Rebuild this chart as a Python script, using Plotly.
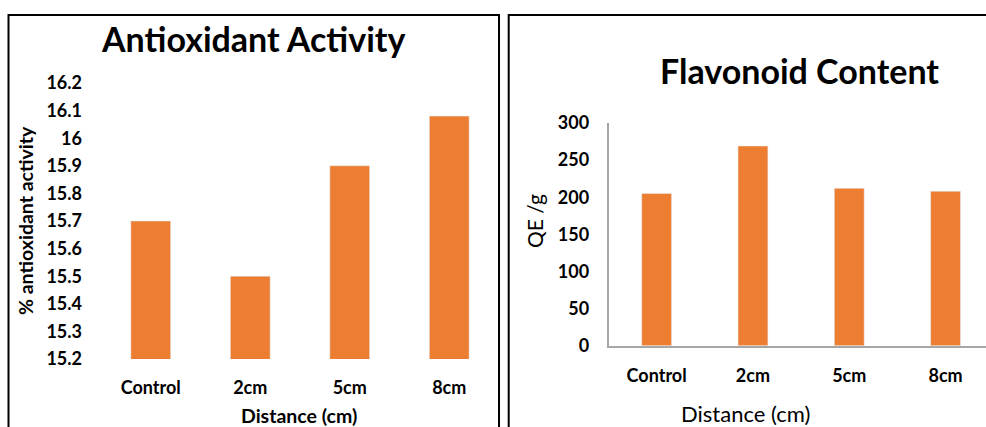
import plotly.graph_objects as go

# Data
distances = ["Control", "2cm", "5cm", "8cm"]
antioxidant_pct = [15.70, 15.50, 15.90, 16.08]
flavonoid_qe = [205, 269, 212, 208]

antioxidant_ticks = [15.2, 15.3, 15.4, 15.5, 15.6, 15.7, 15.8, 15.9, 16.0, 16.1, 16.2]
antioxidant_ticktext = ["15.2", "15.3", "15.4", "15.5", "15.6", "15.7", "15.8", "15.9", "16", "16.1", "16.2"]
flavonoid_ticks = [0, 50, 100, 150, 200, 250, 300]

W, H = 986, 427
BAR = "#ED7D31"
FONT = "Lato"


def px(x):
    return x / W


def py(y):
    return 1 - y / H


fig = go.Figure()

fig.add_trace(go.Bar(x=distances, y=antioxidant_pct, marker_color=BAR, width=0.40,
                     xaxis="x", yaxis="y", showlegend=False))
fig.add_trace(go.Bar(x=distances, y=flavonoid_qe, marker_color=BAR, width=0.31,
                     xaxis="x2", yaxis="y2", showlegend=False))

tick_font = dict(family=FONT, size=18, color="#000000", weight="bold")

fig.update_layout(
    width=W, height=H,
    margin=dict(l=0, r=0, t=0, b=0, autoexpand=False),
    paper_bgcolor="white", plot_bgcolor="white",
    font=dict(family=FONT, color="#000000"),
    xaxis=dict(domain=[px(101), px(499)], range=[-0.5, 3.5], anchor="y",
               showline=False, ticks="", tickfont=tick_font, ticklabelstandoff=16,
               showgrid=False, zeroline=False, automargin=False),
    yaxis=dict(domain=[py(359), py(83)], range=[15.2, 16.2], anchor="x",
               tickvals=antioxidant_ticks, ticktext=antioxidant_ticktext,
               showline=False, ticks="", tickfont=tick_font, ticklabelstandoff=18,
               showgrid=False, zeroline=False, automargin=False),
    xaxis2=dict(domain=[px(608.5), 1.0], range=[-0.5, 3.42], anchor="y2",
                showline=True, linecolor="#a6a6a6", linewidth=1.5,
                ticks="", tickfont=tick_font, ticklabelstandoff=13,
                showgrid=False, zeroline=False, automargin=False),
    yaxis2=dict(domain=[py(345.7), py(123)], range=[0, 300], anchor="x2",
                tickvals=flavonoid_ticks,
                showline=True, linecolor="#a6a6a6", linewidth=1.5,
                ticks="", tickfont=tick_font, ticklabelstandoff=14,
                showgrid=False, zeroline=False, automargin=False),
)

# Panel frames
fig.add_shape(type="rect", xref="paper", yref="paper",
              x0=px(8.5), x1=px(499), y0=py(440), y1=py(15),
              line=dict(color="#000000", width=2), fillcolor="rgba(0,0,0,0)")
fig.add_shape(type="rect", xref="paper", yref="paper",
              x0=px(508.7), x1=px(1000), y0=py(440), y1=py(15),
              line=dict(color="#000000", width=2), fillcolor="rgba(0,0,0,0)")


def label(text, x, y, size, angle=0):
    fig.add_annotation(text=text, xref="paper", yref="paper",
                       x=px(x), y=py(y), xanchor="center", yanchor="middle",
                       showarrow=False, textangle=angle,
                       font=dict(family=FONT, size=size, color="#000000"))


# Titles and axis titles
label("<b>Antioxidant Activity</b>", 253, 39, 34)
label("<b>Flavonoid Content</b>", 799, 71, 34)
label("<b>Distance (cm)</b>", 299, 415, 19.5)
label("Distance (cm)", 745, 413, 22)
label("<b>% antioxidant activity</b>", 25, 221, 19.5, -90)
label("QE /g", 534, 221, 21, -90)

fig.write_html("out.html")
